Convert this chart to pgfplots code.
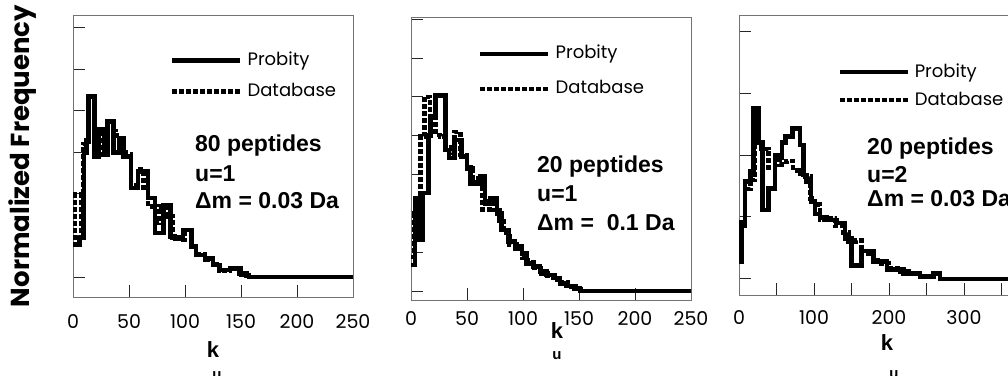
\documentclass[border=0pt]{standalone}
\usepackage{pgfplots}
\pgfplotsset{compat=1.18}
\usepackage{fontspec}
\setmainfont{Liberation Sans}
\newfontfamily\comic{Poppins}

\pgfplotstableread{
x y
0 0.78
6 0.94
10 3.0
12 3.3
14 4.34
19 2.9
23 3.55
28 2.95
31 3.74
36 3.0
41 3.34
45 2.9
52 2.14
58 2.54
67 1.9
73 1.06
81 1.73
87 0.97
91 0.93
98 1.13
106 0.73
110 0.53
118 0.45
125 0.29
131 0.17
140 0.2
150 0.05
157 0
250 0
}\probA
\pgfplotstableread{
x y
0 0.78
2 1.98
7 0.94
9 3.2
14 4.3
19 3.55
25 2.95
30 3.5
38 3.4
42 3.0
47 2.95
52 2.2
58 2.6
63 2.1
67 1.7
73 1.3
77 1.7
84 1.45
89 0.95
95 0.9
100 1.05
106 0.75
110 0.55
118 0.42
125 0.3
131 0.16
140 0.22
148 0.08
155 0.02
160 0
250 0
}\dbA
\pgfplotstableread{
x y
0 0.67
3.5 2.39
7.5 1.31
10.5 2.52
15.5 4.0
17.5 4.49
22 5.03
31 3.63
34 3.42
39 3.89
45 3.46
50 3.2
53 2.77
62 2.95
66 2.26
71 2.39
77 2.0
81 1.57
87 1.27
93 1.1
99 0.97
103 0.71
109 0.63
115 0.5
121 0.41
127 0.33
133 0.2
139 0.13
147 0.07
151 0
250 0
}\probB
\pgfplotstableread{
x y
0 0.88
2.5 2.0
8.5 3.98
12 5.0
17 4.66
22 4.02
26 3.98
31 3.55
36 3.7
39 4.1
44 3.5
50 3.15
55 2.8
60 2.9
64 2.1
70 2.3
74 2.09
79 1.8
83 1.5
88 1.2
94 1.15
99 0.85
104 0.75
110 0.6
116 0.45
122 0.4
128 0.28
134 0.22
140 0.12
146 0.05
152 0
250 0
}\dbB
\pgfplotstableread{
x y
0 0.28
3.5 0.85
8 1.57
15 1.73
19 2.75
26 2.2
31 1.11
39 1.46
48 1.95
57 2.2
62 2.3
71 2.43
81 2.16
86 1.68
90 1.57
96 1.25
101 1.05
108 1.0
117 0.95
130 0.9
141 0.65
150 0.22
163 0.45
172 0.4
179 0.28
197 0.15
219 0.09
241 0.04
259 0.09
268 0
400 0
}\probC
\pgfplotstableread{
x y
0 0.55
3.5 0.92
8 1.45
15 1.6
21 2.2
30 2.1
39 1.8
48 2.0
54 1.85
63 1.9
72 1.75
81 1.7
88 1.65
95 1.3
101 1.2
108 0.95
117 0.98
128 0.85
139 0.75
146 0.6
155 0.62
163 0.4
172 0.45
179 0.3
190 0.25
200 0.17
215 0.12
230 0.08
245 0.05
259 0.09
268 0
400 0
}\dbC

\pgfplotsset{
  hist/.style={
    scale only axis,
    axis line style={draw=black!55, line width=1pt},
    tick style={draw=black!85, line width=1pt},
    major tick length=12pt,
    tick pos=left, tick align=inside,
    ytick={0,1,...,7},
    yticklabels={},
    /pgf/number format/assume math mode=true,
    ticklabel style={font=\comic\fontsize{19}{19}\selectfont},
    xlabel style={font=\bfseries\fontsize{22}{22}\selectfont, anchor=center},
    legend style={draw=none, fill=none, inner sep=0pt, anchor=north west,
      font=\comic\fontsize{18}{18}\selectfont,
      nodes={inner sep=0pt, text height=14pt, text depth=4pt},
      /tikz/every odd column/.append style={column sep=5pt}},
    legend image code/.code={\draw[##1] (0pt,0pt) -- (68pt,0pt);},
    legend cell align=left,
  },
  probity/.style={const plot, black, line width=4.5pt, line join=miter},
  database/.style={const plot, black, line width=4.5pt, line join=miter, dash pattern=on 5pt off 2pt},
}

\begin{document}
\begin{tikzpicture}
% Panel 1
\begin{axis}[hist, at={(73pt,78pt)}, anchor=south west,
  width=280pt, height=282pt,
  xmin=0, xmax=250, ymin=-0.48, ymax=6.3,
  xtick={0,50,...,250},
  xticklabel style={yshift=-14pt},
  xlabel={k}, xlabel style={at={(axis description cs:0.5,-0.188)}},
  legend style={at={(axis description cs:0.346,0.872)}, row sep=13pt},
]
\addplot[probity] table {\probA};
\addlegendentry{Probity}
\addplot[database] table {\dbA};
\addlegendentry{Database}
\end{axis}
% Panel 2
\begin{axis}[hist, at={(411pt,75pt)}, anchor=south west,
  width=280pt, height=282pt,
  xmin=0, xmax=250, ymin=-0.23, ymax=7.03,
  xtick={0,50,...,250},
  xticklabel style={yshift=-8pt},
  xlabel={k}, xlabel style={at={(axis description cs:0.521,-0.11)}},
  legend style={at={(axis description cs:0.239,0.905)}, row sep=17pt},
]
\addplot[probity] table {\probB};
\addlegendentry{Probity}
\addplot[database] table {\dbB};
\addlegendentry{Database}
\end{axis}
% Panel 3
\begin{axis}[hist, at={(739pt,80pt)}, anchor=south west,
  width=300pt, height=280pt,
  xmin=0, xmax=400, ymin=-0.26, ymax=4.26,
  xtick={0,50,...,400}, xticklabels={0,,100,,200,,300,,400},
  xticklabel style={yshift=-12pt},
  xlabel={k}, xlabel style={at={(axis description cs:0.493,-0.168)}},
  legend style={at={(axis description cs:0.327,0.829)}, row sep=10pt},
]
\addplot[probity] table {\probC};
\addlegendentry{Probity}
\addplot[database] table {\dbC};
\addlegendentry{Database}
\end{axis}

% subscripts of k_u
\begin{scope}[every node/.style={inner sep=0pt, anchor=north, font=\bfseries\fontsize{15}{15}\selectfont}]
\node at (217pt,4pt) {u};
\node at (557pt,24pt) {u};
\node at (894pt,5pt) {u};
\end{scope}

% annotations
\begin{scope}[every node/.style={inner sep=0pt, anchor=base west, font=\bfseries\fontsize{23}{23}\selectfont}]
\node at (195pt,223pt) {80 peptides};
\node at (195pt,193pt) {u=1};
\node at (195pt,166pt) {Δm = 0.03 Da};
\node at (537pt,202pt) {20 peptides};
\node at (537pt,173pt) {u=1};
\node at (537pt,145pt) {Δm =\ \ 0.1 Da};
\node at (867pt,220pt) {20 peptides};
\node at (867pt,192pt) {u=2};
\node at (867pt,168pt) {Δm = 0.03 Da};
\end{scope}

\node[rotate=90, inner sep=0pt, font=\comic\bfseries\fontsize{26}{26}\selectfont] at (23pt,219pt) {Normalized Frequency};

\pgfresetboundingbox
\useasboundingbox (0pt,0pt) rectangle (1008pt,375pt);
\end{tikzpicture}
\end{document}
